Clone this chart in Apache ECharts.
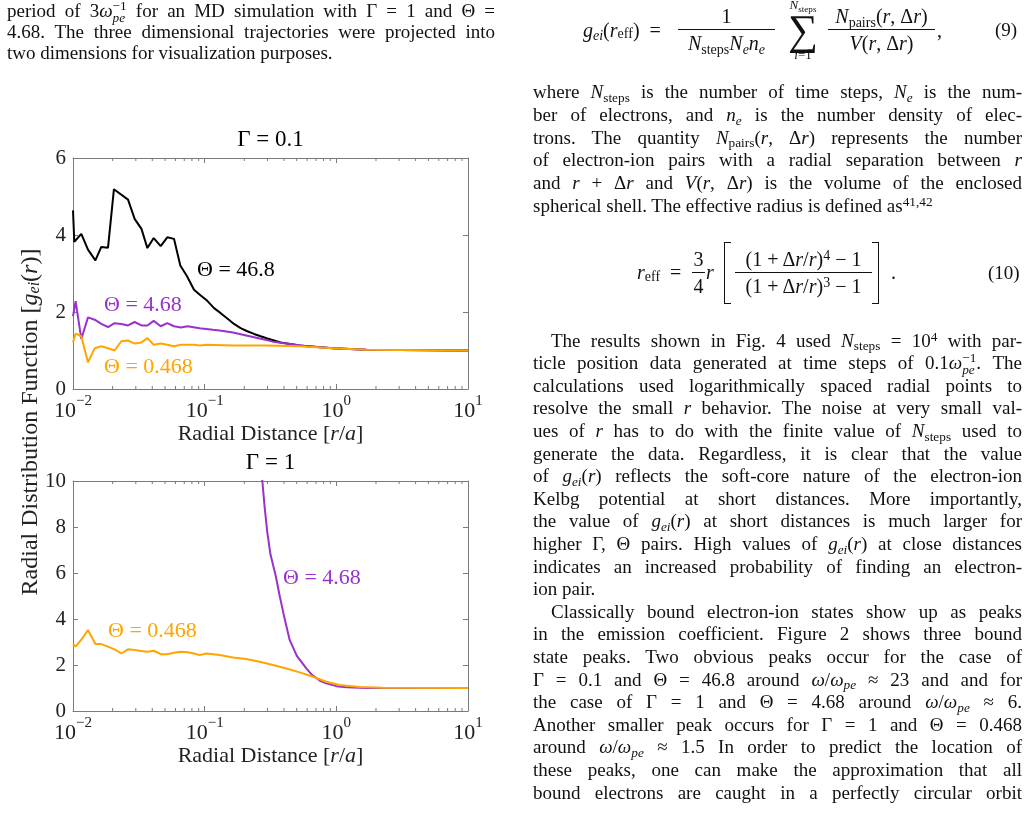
<!DOCTYPE html>
<html><head><meta charset="utf-8">
<script src="https://cdn.jsdelivr.net/npm/echarts@6/dist/echarts.min.js"></script>
<style>
html,body{margin:0;padding:0;background:#fff;}
#page{position:relative;width:1030px;height:813px;overflow:hidden;font-family:"Liberation Serif","DejaVu Serif",serif;color:#111;}
#chart{position:absolute;left:0;top:0;width:1030px;height:813px;}
.ln{position:absolute;font-size:19px;line-height:22px;height:22px;}
.j{text-align:justify;text-align-last:justify;}
.l{text-align:left;}
sub,sup{font-size:0.7em;line-height:0;position:relative;vertical-align:baseline;}
sub{top:0.28em;} sup{top:-0.42em;}
.ss{display:inline-block;font-size:0.7em;line-height:12px;vertical-align:-5px;}
.ss span{display:block;}
.eq{position:absolute;display:flex;align-items:center;font-size:20px;height:80px;white-space:nowrap;}
.pc{display:inline-flex;align-items:center;justify-content:center;flex:none;}
.fr{display:inline-flex;flex-direction:column;align-items:stretch;flex:none;}
.nu{border-bottom:1.3px solid #111;padding:0 0 1px;line-height:1.15;text-align:center;}
.de{padding:2px 0 0;line-height:1.15;text-align:center;}
.sum{display:inline-flex;flex-direction:column;align-items:center;flex:none;}
.sum .lim{font-size:13px;line-height:14px;}
.sum .sig{font-size:42px;line-height:36px;}
.br{display:inline-block;width:6px;height:60px;border:1.4px solid #111;flex:none;}
</style></head>
<body>
<div id="page">
<div id="chart"></div>

<!-- left column top text -->
<div class="ln j" style="left:7px;width:488px;top:0px;">period of 3<i>ω</i><span class="ss"><span>−1</span><span><i>pe</i></span></span> for an MD simulation with Γ = 1 and Θ =</div>
<div class="ln j" style="left:7px;width:488px;top:21px;">4.68. The three dimensional trajectories were projected into</div>
<div class="ln l" style="left:7px;width:488px;top:42px;">two dimensions for visualization purposes.</div>

<!-- equation 9 -->
<div class="eq" style="left:583px;top:-10px;">
<span class="pc" style="width:95px;justify-content:flex-start;"><i>g<sub>ei</sub></i>(<i>r</i><sub>eff</sub>)&nbsp;&nbsp;=</span>
<span class="fr" style="width:97px;"><span class="nu">1</span><span class="de"><i>N</i><sub>steps</sub><i>N<sub>e</sub>n<sub>e</sub></i></span></span>
<span class="sum" style="width:40px;margin-left:8px;margin-right:5px;"><span class="lim"><i>N</i><sub>steps</sub></span><span class="sig">∑</span><span class="lim"><i>i</i>=1</span></span>
<span class="fr" style="width:107px;"><span class="nu"><i>N</i><sub>pairs</sub>(<i>r</i>, Δ<i>r</i>)</span><span class="de"><i>V</i>(<i>r</i>, Δ<i>r</i>)</span></span>
<span class="pc" style="margin-left:2px;">,</span>
</div>
<div class="ln l" style="left:995px;top:18.6px;">(9)</div>

<!-- paragraph 1 -->
<div class="ln j" style="left:533px;width:489px;top:81.1px;">where <i>N</i><sub>steps</sub> is the number of time steps, <i>N<sub>e</sub></i> is the num-</div>
<div class="ln j" style="left:533px;width:489px;top:103.8px;">ber of electrons, and <i>n<sub>e</sub></i> is the number density of elec-</div>
<div class="ln j" style="left:533px;width:489px;top:126.5px;">trons. The quantity <i>N</i><sub>pairs</sub>(<i>r</i>, Δ<i>r</i>) represents the number</div>
<div class="ln j" style="left:533px;width:489px;top:149.2px;">of electron-ion pairs with a radial separation between <i>r</i></div>
<div class="ln j" style="left:533px;width:489px;top:171.9px;">and <i>r</i> + Δ<i>r</i> and <i>V</i>(<i>r</i>, Δ<i>r</i>) is the volume of the enclosed</div>
<div class="ln l" style="left:533px;width:489px;top:194.6px;">spherical shell. The effective radius is defined as<sup>41,42</sup></div>

<!-- equation 10 -->
<div class="eq" style="left:637px;top:232.7px;">
<span class="pc" style="width:55px;justify-content:flex-start;"><i>r</i><sub>eff</sub>&nbsp;&nbsp;=</span>
<span class="fr" style="width:13px;"><span class="nu">3</span><span class="de">4</span></span>
<span class="pc" style="width:18px;justify-content:flex-start;padding-left:1px;"><i>r</i></span>
<span class="br" style="border-right:none;"></span>
<span class="fr" style="width:137px;margin-left:4px;"><span class="nu">(1 + Δ<i>r</i>/<i>r</i>)<sup>4</sup> − 1</span><span class="de">(1 + Δ<i>r</i>/<i>r</i>)<sup>3</sup> − 1</span></span>
<span class="br" style="border-left:none;"></span>
<span class="pc" style="width:17px;justify-content:flex-end;">.</span>
</div>
<div class="ln l" style="left:988px;top:261.6px;">(10)</div>

<!-- paragraph 2 -->
<div class="ln j" style="left:551px;width:471px;top:329.6px;">The results shown in Fig. 4 used <i>N</i><sub>steps</sub> = 10<sup>4</sup> with par-</div>
<div class="ln j" style="left:533px;width:489px;top:352.2px;">ticle position data generated at time steps of 0.1<i>ω</i><span class="ss"><span>−1</span><span><i>pe</i></span></span>. The</div>
<div class="ln j" style="left:533px;width:489px;top:374.8px;">calculations used logarithmically spaced radial points to</div>
<div class="ln j" style="left:533px;width:489px;top:397.4px;">resolve the small <i>r</i> behavior. The noise at very small val-</div>
<div class="ln j" style="left:533px;width:489px;top:420px;">ues of <i>r</i> has to do with the finite value of <i>N</i><sub>steps</sub> used to</div>
<div class="ln j" style="left:533px;width:489px;top:442.6px;">generate the data. Regardless, it is clear that the value</div>
<div class="ln j" style="left:533px;width:489px;top:465.2px;">of <i>g<sub>ei</sub></i>(<i>r</i>) reflects the soft-core nature of the electron-ion</div>
<div class="ln j" style="left:533px;width:489px;top:487.8px;">Kelbg potential at short distances. More importantly,</div>
<div class="ln j" style="left:533px;width:489px;top:510.4px;">the value of <i>g<sub>ei</sub></i>(<i>r</i>) at short distances is much larger for</div>
<div class="ln j" style="left:533px;width:489px;top:533px;">higher Γ, Θ pairs. High values of <i>g<sub>ei</sub></i>(<i>r</i>) at close distances</div>
<div class="ln j" style="left:533px;width:489px;top:555.6px;">indicates an increased probability of finding an electron-</div>
<div class="ln l" style="left:533px;width:489px;top:578.2px;">ion pair.</div>
<div class="ln j" style="left:551px;width:471px;top:600.8px;">Classically bound electron-ion states show up as peaks</div>
<div class="ln j" style="left:533px;width:489px;top:623.4px;">in the emission coefficient. Figure 2 shows three bound</div>
<div class="ln j" style="left:533px;width:489px;top:646px;">state peaks. Two obvious peaks occur for the case of</div>
<div class="ln j" style="left:533px;width:489px;top:668.6px;">Γ = 0.1 and Θ = 46.8 around <i>ω</i>/<i>ω<sub>pe</sub></i> ≈ 23 and and for</div>
<div class="ln j" style="left:533px;width:489px;top:691.2px;">the case of Γ = 1 and Θ = 4.68 around <i>ω</i>/<i>ω<sub>pe</sub></i> ≈ 6.</div>
<div class="ln j" style="left:533px;width:489px;top:713.8px;">Another smaller peak occurs for Γ = 1 and Θ = 0.468</div>
<div class="ln j" style="left:533px;width:489px;top:736.4px;">around <i>ω</i>/<i>ω<sub>pe</sub></i> ≈ 1.5 In order to predict the location of</div>
<div class="ln j" style="left:533px;width:489px;top:759px;">these peaks, one can make the approximation that all</div>
<div class="ln j" style="left:533px;width:489px;top:781.6px;">bound electrons are caught in a perfectly circular orbit</div>
</div>

<script>
// ---------- data ----------
// Gamma = 0.1 panel
const g01_t468_x = [0.01,0.01023,0.01156,0.0130,0.01479,0.0164,0.01845,0.02046,0.02618,0.02938,0.03311,0.03673,0.04102,0.04634,0.0520,0.05848,0.06531,0.07345,0.08299,0.09333,0.1047,0.1178,0.1324,0.1486,0.1671,0.1875,0.2109,0.2371,0.2661,0.2992,0.3776,0.5272,0.9441,1.690,10];
const g01_t468_y = [4.64,3.82,4.03,3.62,3.34,3.69,3.67,5.19,4.92,4.42,4.16,3.66,3.92,3.71,3.94,3.90,3.21,2.93,2.58,2.43,2.29,2.10,1.97,1.83,1.69,1.58,1.50,1.43,1.37,1.31,1.21,1.13,1.06,1.02,1.0];
const g01_t4_68_x = [0.01,0.01047,0.01156,0.0130,0.01462,0.0164,0.01845,0.0207,0.02328,0.02618,0.02938,0.03311,0.03673,0.04102,0.04634,0.0520,0.05848,0.06607,0.07413,0.09162,0.1156,0.13,0.1641,0.207,0.2618,0.3304,0.4169,0.5916,0.9441,1.690,10];
const g01_t4_68_y = [1.89,2.28,1.30,1.86,1.80,1.69,1.61,1.71,1.69,1.65,1.74,1.65,1.65,1.77,1.63,1.71,1.63,1.60,1.63,1.58,1.54,1.52,1.47,1.39,1.31,1.23,1.18,1.11,1.06,1.02,1.0];
const g01_t0_468_x = [0.01,0.01047,0.01156,0.0130,0.01462,0.0164,0.01845,0.0207,0.02328,0.02618,0.02938,0.03311,0.03673,0.04102,0.04634,0.0520,0.05848,0.06607,0.08299,0.09162,0.103,0.1641,0.2938,0.5272,0.9441,1.690,10];
const g01_t0_468_y = [1.21,1.44,1.37,0.69,1.06,1.11,1.06,1.00,1.24,1.26,1.18,1.21,1.32,1.15,1.18,1.15,1.11,1.15,1.15,1.13,1.15,1.13,1.13,1.11,1.06,1.02,1.0];
// Gamma = 1 panel
const g1_t4_68_x = [0.263,0.2742,0.2851,0.2985,0.3162,0.3467,0.3715,0.3981,0.4426,0.5012,0.5916,0.6457,0.7586,0.8395,1.0,1.191,1.690,10];
const g1_t4_68_y = [11.2,10.0,8.9,7.8,6.8,5.87,5.0,4.2,3.08,2.4,1.85,1.60,1.30,1.20,1.08,1.03,1.0,1.0];
const g1_t0_468_x = [0.01,0.01047,0.01156,0.0130,0.01479,0.0164,0.01845,0.0207,0.02328,0.02618,0.02938,0.03311,0.03673,0.04102,0.04634,0.0520,0.05848,0.06607,0.07413,0.08299,0.09162,0.103,0.13,0.1641,0.207,0.2618,0.3304,0.4169,0.5272,0.6653,0.8395,1.059,1.503,2.259,10];
const g1_t0_468_y = [2.91,2.80,3.10,3.52,2.91,2.91,2.80,2.68,2.50,2.68,2.65,2.61,2.58,2.62,2.47,2.47,2.53,2.58,2.55,2.50,2.43,2.50,2.43,2.33,2.26,2.14,2.00,1.85,1.68,1.49,1.27,1.13,1.04,1.01,1.0];

const panelTitles = ['Γ = 0.1', 'Γ = 1'];
const yMax = [6, 10];
const xMin = 0.01, xMax = 10;
const xDecades = [0.01, 0.1, 1];
const minorMultipliers = [2,3,4,5,6,7,8,9];

const BLACK = '#000000', PURPLE = '#9932CC', ORANGE = '#FFA500';
const FONT = '"Liberation Serif","DejaVu Serif",serif';
const AX = '#7a7a7a';

const zip = (xs, ys) => xs.map((x, i) => [x, ys[i]]);
const minorTicks = [];
xDecades.forEach(d => minorMultipliers.forEach(m => minorTicks.push([m * d, 1])));

const grids = [
  {left: 73, top: 158, width: 395, height: 231},
  {left: 73, top: 481, width: 395, height: 230}
];

function expLabel(v) {
  const e = Math.round(Math.log10(v));
  return '{a|10}{b|' + (e < 0 ? '\u2212' + (-e) : e) + '}';
}

const xAxes = [], yAxes = [];
[0, 1].forEach(g => {
  xAxes.push({
    gridIndex: g, type: 'log', logBase: 10, min: xMin, max: xMax, position: 'bottom',
    axisLine: {show: true, onZero: false, lineStyle: {color: AX, width: 1}},
    axisTick: {show: true, inside: true, length: 5, lineStyle: {color: AX}},
    splitLine: {show: false},
    axisLabel: {
      margin: 5, formatter: expLabel, color: '#222',
      rich: {
        a: {fontFamily: FONT, fontSize: 22, color: '#222', lineHeight: 28, verticalAlign: 'bottom'},
        b: {fontFamily: FONT, fontSize: 15, color: '#222', lineHeight: 15, verticalAlign: 'top'}
      }
    },
    name: 'Radial Distance [{i|r}/{i|a}]', nameLocation: 'middle', nameGap: 33,
    nameTextStyle: {fontFamily: FONT, fontSize: 22, color: '#222',
      rich: {i: {fontFamily: FONT, fontSize: 22, fontStyle: 'italic', color: '#222'}}}
  });
  xAxes.push({
    gridIndex: g, type: 'log', logBase: 10, min: xMin, max: xMax, position: 'top',
    axisLine: {show: true, onZero: false, lineStyle: {color: AX, width: 1}},
    axisTick: {show: true, inside: true, length: 5, lineStyle: {color: AX}},
    splitLine: {show: false}, axisLabel: {show: false}
  });
  yAxes.push({
    gridIndex: g, type: 'value', min: 0, max: yMax[g], interval: 2, position: 'left',
    axisLine: {show: true, onZero: false, lineStyle: {color: AX, width: 1}},
    axisTick: {show: true, inside: true, length: 5, lineStyle: {color: AX}},
    splitLine: {show: false},
    axisLabel: {margin: 7, fontFamily: FONT, fontSize: 21, color: '#222'}
  });
  yAxes.push({
    gridIndex: g, type: 'value', min: 0, max: yMax[g], interval: 2, position: 'right',
    axisLine: {show: true, onZero: false, lineStyle: {color: AX, width: 1}},
    axisTick: {show: true, inside: true, length: 5, lineStyle: {color: AX}},
    splitLine: {show: false}, axisLabel: {show: false}
  });
});

function lineSeries(g, xs, ys, color, z) {
  return {type: 'line', xAxisIndex: g * 2, yAxisIndex: g * 2, data: zip(xs, ys),
    symbol: 'none', smooth: false, clip: true, z: z, silent: true,
    lineStyle: {color: color, width: 2}};
}
function minorSeries(g) {
  return {type: 'custom', xAxisIndex: g * 2, yAxisIndex: g * 2, data: minorTicks, silent: true, z: 1,
    encode: {x: 0, y: 1},
    renderItem: (params, api) => {
      const px = api.coord([api.value(0), 1])[0];
      const cs = params.coordSys;
      const st = {stroke: AX, lineWidth: 1};
      return {type: 'group', children: [
        {type: 'line', shape: {x1: px, y1: cs.y, x2: px, y2: cs.y + 3}, style: st},
        {type: 'line', shape: {x1: px, y1: cs.y + cs.height, x2: px, y2: cs.y + cs.height - 3}, style: st}
      ]};
    }};
}

function txt(x, y, text, color, size, align) {
  return {type: 'text', x: x, y: y, z: 100,
    style: {text: text, fill: color, fontFamily: FONT, fontSize: size,
      textAlign: align || 'left', textVerticalAlign: 'middle'}};
}

const chart = echarts.init(document.getElementById('chart'), null, {renderer: 'canvas'});
chart.setOption({
  backgroundColor: 'transparent',
  animation: false,
  grid: grids,
  xAxis: xAxes,
  yAxis: yAxes,
  series: [
    minorSeries(0), minorSeries(1),
    lineSeries(0, g01_t468_x, g01_t468_y, BLACK, 3),
    lineSeries(0, g01_t4_68_x, g01_t4_68_y, PURPLE, 4),
    lineSeries(0, g01_t0_468_x, g01_t0_468_y, ORANGE, 5),
    lineSeries(1, g1_t4_68_x, g1_t4_68_y, PURPLE, 4),
    lineSeries(1, g1_t0_468_x, g1_t0_468_y, ORANGE, 5)
  ],
  graphic: [
    txt(270.5, 140, panelTitles[0], '#000', 23, 'center'),
    txt(270.5, 463, panelTitles[1], '#000', 23, 'center'),
    txt(197, 270, 'Θ = 46.8', BLACK, 22),
    txt(104, 305, 'Θ = 4.68', PURPLE, 22),
    txt(104, 367, 'Θ = 0.468', ORANGE, 22),
    txt(283, 578, 'Θ = 4.68', PURPLE, 22),
    txt(108, 631, 'Θ = 0.468', ORANGE, 22),
    {type: 'text', x: 31, y: 422, rotation: Math.PI / 2, z: 100,
      style: {text: 'Radial Distribution Function [{i|g}{s|ei}({i|r})]',
        fill: '#222', fontFamily: FONT, fontSize: 24, textAlign: 'center', textVerticalAlign: 'middle',
        rich: {
          i: {fontFamily: FONT, fontSize: 24, fontStyle: 'italic', fill: '#222', color: '#222'},
          s: {fontFamily: FONT, fontSize: 16, fontStyle: 'italic', fill: '#222', color: '#222', verticalAlign: 'bottom', lineHeight: 16}
        }}}
  ]
});
</script>
</body></html>
